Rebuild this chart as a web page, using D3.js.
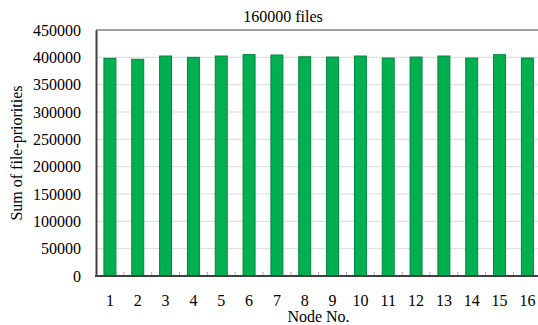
<!DOCTYPE html>
<html>
<head>
<meta charset="utf-8">
<script src="https://cdn.jsdelivr.net/npm/d3@7"></script>
<style>
  html, body { margin: 0; padding: 0; background: #fff; }
  svg { display: block; font-family: "Liberation Serif", "Times New Roman", serif; }
</style>
</head>
<body>
<svg id="chart" width="538" height="325"></svg>
<script>
// Node numbers and the summed file priorities on each node
const nodes = ["1","2","3","4","5","6","7","8","9","10","11","12","13","14","15","16"];
const prioritySums = [398200, 396400, 402400, 400000, 402400, 405000, 404200, 401100,
                      400500, 402400, 398700, 400500, 402400, 398700, 404800, 398700];
const yTicks = [0, 50000, 100000, 150000, 200000, 250000, 300000, 350000, 400000, 450000];
const titleText = "160000 files";
const xTitle = "Node No.";
const yTitle = "Sum of file-priorities";

const svg = d3.select("#chart");
const plot = { left: 96, top: 30, right: 541.3, bottom: 276 };

const x = d3.scaleBand()
  .domain(nodes)
  .range([plot.left, plot.right])
  .paddingInner(0.57)
  .paddingOuter(0.285);

const y = d3.scaleLinear()
  .domain([0, 450000])
  .range([plot.bottom, plot.top]);

// horizontal gridlines
svg.append("g")
  .selectAll("line")
  .data(yTicks.filter(d => d > 0 && d < 450000))
  .join("line")
  .attr("x1", plot.left).attr("x2", plot.right)
  .attr("y1", d => y(d)).attr("y2", d => y(d))
  .attr("stroke", "#d9d9d9").attr("stroke-width", 1);

// top border
svg.append("line")
  .attr("x1", plot.left).attr("x2", plot.right)
  .attr("y1", y(450000)).attr("y2", y(450000))
  .attr("stroke", "#7f7f7f").attr("stroke-width", 1.5);

// bars
svg.append("g")
  .selectAll("rect")
  .data(prioritySums)
  .join("rect")
  .attr("x", (d, i) => x(nodes[i]))
  .attr("y", d => y(d))
  .attr("width", x.bandwidth())
  .attr("height", d => plot.bottom - y(d))
  .attr("fill", "#00b050")
  .attr("stroke", "#00843e")
  .attr("stroke-width", 1);

// y axis
const yAxis = d3.axisLeft(y).tickValues(yTicks).tickSize(0).tickPadding(15).tickFormat(d3.format("d"));
const gy = svg.append("g").attr("transform", `translate(${plot.left},0)`).call(yAxis);
gy.select(".domain").attr("stroke", "#404040").attr("stroke-width", 2);
gy.selectAll("text").attr("font-size", 16).attr("fill", "#000")
  .attr("font-family", "Liberation Serif, serif");

// x axis: small inward ticks at category boundaries
const step = x.step();
const boundaries = d3.range(1, nodes.length).map(i => plot.left + i * step);
svg.append("g")
  .selectAll("line")
  .data(boundaries)
  .join("line")
  .attr("x1", d => d).attr("x2", d => d)
  .attr("y1", plot.bottom).attr("y2", plot.bottom - 4)
  .attr("stroke", "#a6a6a6").attr("stroke-width", 1);

svg.append("line")
  .attr("x1", plot.left - 1).attr("x2", plot.right)
  .attr("y1", plot.bottom).attr("y2", plot.bottom)
  .attr("stroke", "#404040").attr("stroke-width", 2);

svg.append("g")
  .selectAll("text")
  .data(nodes)
  .join("text")
  .attr("x", d => x(d) + x.bandwidth() / 2)
  .attr("y", 305.5)
  .attr("text-anchor", "middle")
  .attr("font-size", 16)
  .text(d => d);

// titles
svg.append("text")
  .attr("x", 283).attr("y", 22)
  .attr("text-anchor", "middle")
  .attr("font-size", 16)
  .text(titleText);

svg.append("text")
  .attr("x", 318.5).attr("y", 321.5)
  .attr("text-anchor", "middle")
  .attr("font-size", 16)
  .text(xTitle);

svg.append("text")
  .attr("transform", "translate(22,153) rotate(-90)")
  .attr("text-anchor", "middle")
  .attr("font-size", 16)
  .text(yTitle);
</script>
</body>
</html>
